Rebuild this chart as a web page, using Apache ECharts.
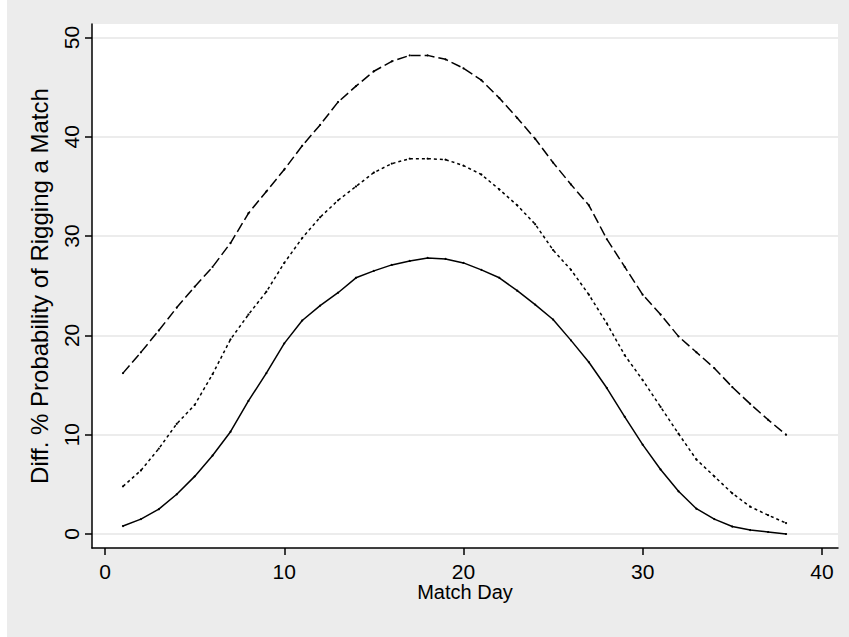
<!DOCTYPE html>
<html>
<head>
<meta charset="utf-8">
<script src="https://cdn.jsdelivr.net/npm/echarts@6/dist/echarts.min.js"></script>
<style>
html,body{margin:0;padding:0;background:#fff;}
#c{width:849px;height:637px;}
</style>
</head>
<body>
<div id="c"></div>
<script>
var matchDays = [1,2,3,4,5,6,7,8,9,10,11,12,13,14,15,16,17,18,19,20,21,22,23,24,25,26,27,28,29,30,31,32,33,34,35,36,37,38];
var upperDashed = [16.2,18.3,20.5,22.8,24.9,26.9,29.3,32.3,34.5,36.7,39.1,41.2,43.5,45.1,46.6,47.6,48.2,48.2,47.8,46.9,45.7,43.9,41.9,39.8,37.4,35.2,33.1,29.7,26.9,24.1,22.1,19.9,18.3,16.7,14.8,13.1,11.5,10.0];
var middleDotted = [4.8,6.4,8.6,11.1,13.0,16.1,19.6,22.1,24.4,27.3,29.8,31.9,33.6,35.0,36.4,37.3,37.8,37.8,37.7,37.1,36.2,34.7,33.1,31.2,28.6,26.6,24.1,21.2,18.0,15.5,12.8,10.1,7.5,5.8,4.1,2.75,1.9,1.1];
var lowerSolid = [0.8,1.5,2.5,4.0,5.8,7.9,10.3,13.4,16.2,19.2,21.5,23.0,24.3,25.8,26.5,27.1,27.5,27.8,27.7,27.3,26.6,25.8,24.5,23.1,21.6,19.5,17.3,14.7,11.8,9.0,6.5,4.3,2.55,1.5,0.75,0.4,0.2,0.0];
var xTicks = [0,10,20,30,40];
var yTicks = [0,10,20,30,40,50];
var xTitle = 'Match Day';
var yTitle = 'Diff. % Probability of Rigging a Match';

function pairs(ys){ return matchDays.map(function(d,i){ return [d, ys[i]]; }); }

var FONT = "'Liberation Sans', Arial, Helvetica, sans-serif";
var chart = echarts.init(document.getElementById('c'), null, {renderer:'svg'});
function mkSeries(name, ys, dash){
  return {
    name:name, type:'line', data:pairs(ys),
    symbol:'circle', symbolSize:2.2, showSymbol:true,
    itemStyle:{color:'#000'},
    lineStyle:{color:'#000', width:1.5, type: dash},
    silent:true, animation:false, z:3
  };
}
chart.setOption({
  backgroundColor:'#ececec',
  animation:false,
  graphic:[{type:'rect', shape:{x:0,y:0,width:7,height:637}, style:{fill:'#ffffff'}, z:-1}],
  grid:{left:92, top:24, right:11, bottom:89, show:true, backgroundColor:'#ffffff', borderWidth:0, outerBoundsMode:'none'},
  xAxis:{
    type:'value', min:-0.73, max:40.9,
    name:xTitle, nameLocation:'middle', nameGap:34, nameMoveOverlap:false,
    nameTextStyle:{fontFamily:FONT, fontSize:20, color:'#000'},
    axisLine:{show:true, onZero:false, lineStyle:{color:'#000', width:1.5}},
    axisTick:{show:true, length:7, lineStyle:{color:'#000', width:1.5}, customValues:xTicks},
    axisLabel:{show:true, customValues:xTicks, margin:13, fontFamily:FONT, fontSize:21, color:'#000'},
    splitLine:{show:false}
  },
  yAxis:{
    type:'value', min:-1.41, max:51.36,
    name:yTitle, nameLocation:'middle', nameGap:41, nameRotate:90, nameMoveOverlap:false,
    nameTextStyle:{fontFamily:FONT, fontSize:24, color:'#000'},
    axisLine:{show:true, onZero:false, lineStyle:{color:'#000', width:1.5}},
    axisTick:{show:true, length:7, lineStyle:{color:'#000', width:1.5}, customValues:yTicks},
    axisLabel:{show:true, customValues:yTicks, rotate:90, margin:10, fontFamily:FONT, fontSize:21, color:'#000'},
    splitLine:{show:true, lineStyle:{color:'#e6e6e6', width:1.5}}
  },
  series:[
    mkSeries('Upper', upperDashed, [10,4]),
    mkSeries('Middle', middleDotted, [3,3]),
    mkSeries('Lower', lowerSolid, 'solid')
  ]
});
</script>
</body>
</html>
